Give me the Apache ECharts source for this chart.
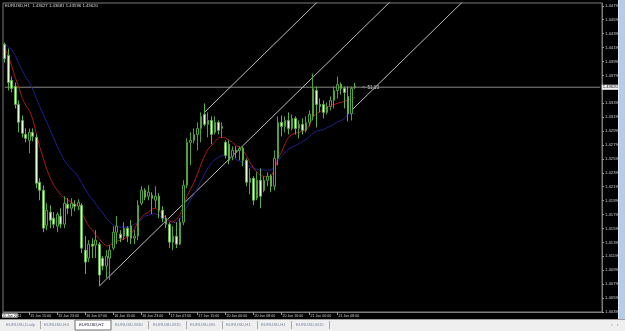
<!DOCTYPE html>
<html><head><meta charset="utf-8">
<script src="https://cdn.jsdelivr.net/npm/echarts@6/dist/echarts.min.js"></script>
<style>html,body{margin:0;padding:0;background:#000;overflow:hidden}#c{width:625px;height:331px}</style>
</head><body><div id="c"></div>
<script>
// ---------- data ----------
const chartTitle = 'EURUSD,H1  1.43627 1.43681 1.43596 1.43620';
const slotCount = 171; // bar slots incl. chart shift space
const opens = [1.44233,1.44075,1.43717,1.43631,1.43373,1.43143,1.42942,1.42856,1.42971,1.42899,
1.42254,1.42139,1.41638,1.41824,1.41738,1.41623,1.41767,1.41652,1.41939,1.41881,
1.41939,1.41910,1.41924,1.41279,1.41164,1.41365,1.41351,1.41365,1.41164,1.41050,
1.41164,1.41308,1.41537,1.41508,1.41480,1.41594,1.41623,1.41451,1.41480,1.41953,
1.42139,1.42053,1.42068,1.41996,1.42053,1.41853,1.41738,1.41652,1.41394,1.41480,
1.41365,1.41681,1.42211,1.42828,1.42856,1.42942,1.43028,1.43229,1.43086,1.43143,
1.42971,1.43115,1.43028,1.42828,1.42799,1.42627,1.42713,1.42713,1.42742,1.42570,
1.42254,1.42311,1.42025,1.42283,1.42139,1.42283,1.42340,1.42197,1.42598,1.43115,
1.43057,1.43143,1.43028,1.43172,1.43028,1.43086,1.43000,1.43115,1.43201,1.43573,
1.43373,1.43373,1.43258,1.43344,1.43430,1.43573,1.43659,1.43602,1.43487,1.43244,
1.43627];
const closes = [1.44032,1.43688,1.43602,1.43373,1.43115,1.42957,1.42885,1.42971,1.42914,1.42240,
1.42139,1.41594,1.41853,1.41709,1.41652,1.41795,1.41652,1.41953,1.41881,1.41953,
1.41910,1.41967,1.41308,1.41107,1.41365,1.41336,1.41422,1.40921,1.41050,1.41193,
1.41279,1.41537,1.41623,1.41451,1.41594,1.41480,1.41451,1.41480,1.41924,1.42139,
1.42039,1.42111,1.42025,1.42053,1.41853,1.41738,1.41652,1.41394,1.41480,1.41365,
1.41681,1.42211,1.42828,1.42856,1.42942,1.43028,1.43201,1.43086,1.43143,1.42942,
1.43115,1.43000,1.43057,1.42641,1.42570,1.42713,1.42684,1.42742,1.42570,1.42254,
1.42311,1.41996,1.42283,1.42053,1.42283,1.42340,1.42197,1.42598,1.43115,1.43057,
1.43143,1.43028,1.43172,1.43028,1.43086,1.43000,1.43115,1.43229,1.43602,1.43373,
1.43344,1.43258,1.43344,1.43430,1.43573,1.43659,1.43602,1.43545,1.43244,1.43602,
1.43620];
const lows = [1.43975,1.43573,1.43545,1.43315,1.42971,1.42899,1.42828,1.42670,1.42842,1.42168,
1.41996,1.41537,1.41566,1.41594,1.41594,1.41537,1.41594,1.41594,1.41795,1.41767,
1.41838,1.41853,1.41236,1.40935,1.41107,1.41164,1.41164,1.40763,1.40992,1.40877,
1.40849,1.41279,1.41365,1.41394,1.41422,1.41394,1.41365,1.41365,1.41422,1.41924,
1.41996,1.41996,1.41795,1.41881,1.41738,1.41681,1.41594,1.41308,1.41279,1.41308,
1.41351,1.41638,1.42168,1.42498,1.42813,1.42713,1.42828,1.43057,1.42899,1.42799,
1.42942,1.42942,1.42899,1.42598,1.42512,1.42570,1.42598,1.42570,1.42484,1.42197,
1.42082,1.41924,1.41996,1.41881,1.42111,1.42197,1.42111,1.42139,1.42498,1.42914,
1.42971,1.42942,1.43000,1.42942,1.42885,1.42942,1.42971,1.43057,1.43143,1.43043,
1.43258,1.43172,1.43229,1.43287,1.43315,1.43459,1.43516,1.43315,1.43129,1.43143,
1.43596];
const highs = [1.44262,1.44176,1.43774,1.43688,1.43430,1.43215,1.43028,1.43028,1.43028,1.42942,
1.42311,1.42211,1.41953,1.41924,1.41824,1.41824,1.41881,1.42053,1.42025,1.42025,
1.41996,1.42010,1.41953,1.41480,1.41422,1.41451,1.41566,1.41394,1.41193,1.41279,
1.41351,1.41623,1.41767,1.41566,1.41681,1.41623,1.41709,1.41566,1.41996,1.42197,
1.42168,1.42211,1.42111,1.42197,1.42097,1.41910,1.41781,1.41681,1.41623,1.41681,
1.41738,1.42283,1.42885,1.42971,1.43028,1.43115,1.43258,1.43387,1.43258,1.43201,
1.43201,1.43143,1.43115,1.42856,1.42856,1.42770,1.42770,1.42770,1.42770,1.42598,
1.42455,1.42340,1.42398,1.42455,1.42340,1.42398,1.42369,1.42713,1.43201,1.43215,
1.43201,1.43258,1.43229,1.43201,1.43143,1.43172,1.43201,1.43287,1.43817,1.43631,
1.43459,1.43430,1.43401,1.43487,1.43631,1.43774,1.43688,1.43631,1.43631,1.43631,
1.43681];
const maFast = [1.4418,1.4408,1.4392,1.4376,1.4362,1.4346,1.4336,1.4329,1.4316,1.4296,
1.4276,1.4260,1.4244,1.4231,1.4221,1.4214,1.4207,1.4203,1.4200,1.4197,
1.4194,1.4191,1.4182,1.4171,1.4162,1.4157,1.4149,1.4144,1.4138,1.4134,
1.4135,1.4139,1.4141,1.4142,1.4144,1.4147,1.4151,1.4158,1.4168,1.4175,
1.4180,1.4182,1.4187,1.4188,1.4184,1.4180,1.4174,1.4170,1.4168,1.4172,
1.4178,1.4192,1.4205,1.4215,1.4225,1.4237,1.4251,1.4263,1.4273,1.4278,
1.4284,1.4289,1.4290,1.4289,1.4286,1.4283,1.4278,1.4276,1.4271,1.4264,
1.4254,1.4246,1.4240,1.4235,1.4234,1.4233,1.4234,1.4243,1.4260,1.4268,
1.4281,1.4290,1.4294,1.4296,1.4297,1.4299,1.4301,1.4307,1.4320,1.4324,
1.4327,1.4330,1.4333,1.4336,1.4337,1.4339,1.4340,1.4342,1.4343,1.4346,
1.4347];
const maSlow = [1.4425,1.4420,1.4416,1.4408,1.4396,1.4386,1.4376,1.4369,1.4359,1.4346,
1.4334,1.4323,1.4312,1.4300,1.4289,1.4277,1.4266,1.4257,1.4250,1.4244,
1.4240,1.4233,1.4224,1.4215,1.4207,1.4201,1.4194,1.4187,1.4181,1.4174,
1.4168,1.4164,1.4162,1.4161,1.4161,1.4161,1.4162,1.4165,1.4168,1.4172,
1.4177,1.4178,1.4180,1.4180,1.4178,1.4175,1.4172,1.4170,1.4168,1.4167,
1.4172,1.4181,1.4190,1.4200,1.4207,1.4217,1.4227,1.4237,1.4246,1.4253,
1.4258,1.4261,1.4264,1.4264,1.4263,1.4261,1.4258,1.4256,1.4254,1.4251,
1.4248,1.4246,1.4244,1.4243,1.4243,1.4243,1.4243,1.4246,1.4256,1.4263,
1.4268,1.4273,1.4276,1.4278,1.4281,1.4284,1.4287,1.4291,1.4296,1.4299,
1.4300,1.4301,1.4304,1.4306,1.4309,1.4312,1.4314,1.4317,1.4323,1.4324,
1.4324];
const xTickIndex = [7,15,23,31,39,47,55,63,71,79,87,95];
const xTickLabels = ['15 Jun 15:00','15 Jun 23:00','16 Jun 07:00','16 Jun 15:00','16 Jun 23:00','17 Jun 07:00','17 Jun 15:00','20 Jun 00:00','20 Jun 08:00','20 Jun 16:00','21 Jun 00:00','21 Jun 08:00'];
const firstLabel = ['15 Jun 20','11'];
const yTicks = [1.4039,1.4059,1.4079,1.4099,1.4119,1.4139,1.4159,1.4179,1.4199,1.4219,1.4239,1.4259,1.4279,1.4299,1.4319,1.4339,1.4359,1.4379,1.4399,1.4419,1.4439,1.4459,1.4479];
const lastPrice = 1.43620;
const countdown = '<- 51:13';
const pitchfork = [[27,1.40763],[57,1.43258],[99,1.43287]];
const tabs = ['EURUSD,Daily','EURUSD,H4','EURUSD,H1','EURUSD,M30','EURUSD,M15','EURUSD,M5','EURUSD,H1','EURUSD,H1','EURUSD,M15'];
const activeTab = 2;

// ---------- layout ----------
const FONT = 'Liberation Sans';
const tabX = [6,44,79,115,153,190,226,261,296];
const sepX = [40,148,186,222,257,291,329];

const cats = Array.from({length: slotCount}, (_, i) => String(i));
const candles = opens.map((o, i) => [o, closes[i], lows[i], highs[i]]);
const labelMap = {};
xTickIndex.forEach((idx, k) => labelMap[idx] = xTickLabels[k]);

const [p1, p2, p3] = pitchfork;
const mid = [(p2[0] + p3[0]) / 2, (p2[1] + p3[1]) / 2];
const slope = (mid[1] - p1[1]) / (mid[0] - p1[0]);
const endIdx = slotCount - 1;
const ext = p => [endIdx, p[1] + slope * (endIdx - p[0])];
const pfStyle = {color: '#bdbdbd', width: 1};
const sq = v => ({value: v, symbol: 'rect', symbolSize: 3, itemStyle: {color: '#ffffff'}});

const graphic = [
  {type: 'rect', shape: {x: 0, y: 319, width: 625, height: 12}, style: {fill: '#efefef'}, silent: true},
  {type: 'rect', shape: {x: 0, y: 319, width: 625, height: 1}, style: {fill: '#a0a0a0'}, silent: true},
  {type: 'rect', shape: {x: 618, y: 0, width: 1, height: 319}, style: {fill: '#e4ecf6'}, silent: true},
  {type: 'rect', shape: {x: 619, y: 0, width: 6, height: 319}, style: {fill: '#b3cdea'}, silent: true},
  {type: 'rect', shape: {x: 75, y: 320, width: 36, height: 10}, style: {fill: '#ffffff', stroke: '#707070', lineWidth: 1}, silent: true},
  {type: 'text', x: 2, y: 313.5, style: {text: '{h|' + firstLabel[0] + '}{n|' + firstLabel[1] + '}', font: '3.6px ' + FONT,
    rich: {h: {backgroundColor: '#ffffff', fill: '#000000', fontSize: 3.6, fontFamily: FONT}, n: {fill: '#cfcfcf', fontSize: 3.6, fontFamily: FONT}}}, silent: true},
  {type: 'text', x: 362, y: 85.6, style: {text: countdown, fill: '#d8d8d8', font: '4.6px ' + FONT}, silent: true},
  {type: 'text', x: 611, y: 322.5, style: {text: '\u2039   \u203A', fill: '#909090', font: '5px ' + FONT}, silent: true}
];
tabs.forEach((t, i) => graphic.push({type: 'text', x: tabX[i], y: 322.6,
  style: {text: t, fill: i === activeTab ? '#202040' : '#7a86a0', font: (i === activeTab ? 'italic ' : '') + '4.3px ' + FONT}, silent: true}));
sepX.forEach(x => graphic.push({type: 'rect', shape: {x: x, y: 321, width: 0.8, height: 8}, style: {fill: '#9a9a9a'}, silent: true}));

const option = {
  animation: false,
  backgroundColor: '#000000',
  title: {text: chartTitle, left: 5, top: 4, padding: 0,
    textStyle: {color: '#dcdcdc', fontSize: 4.3, fontWeight: 'normal', fontFamily: FONT}},
  grid: {left: 3, right: 23, top: 3, bottom: 19, show: true, borderColor: '#7c7c7c', borderWidth: 1, backgroundColor: 'transparent'},
  xAxis: {
    type: 'category', data: cats, boundaryGap: true,
    axisLine: {show: true, lineStyle: {color: '#7c7c7c', width: 1}},
    axisTick: {show: true, alignWithLabel: true, length: 3, interval: i => labelMap[i] !== undefined, lineStyle: {color: '#9a9a9a'}},
    axisLabel: {show: true, interval: i => labelMap[i] !== undefined, formatter: (v, i) => labelMap[i] || '',
      align: 'left', margin: 2, color: '#cfcfcf', fontSize: 3.6, fontFamily: FONT, padding: [0, 0, 0, 1]},
    splitLine: {show: false}
  },
  yAxis: {
    type: 'value', position: 'right', min: 1.4039, max: 1.4483,
    axisLine: {show: true, lineStyle: {color: '#7c7c7c', width: 1}},
    axisTick: {show: true, length: 2, customValues: yTicks, lineStyle: {color: '#9a9a9a'}},
    axisLabel: {show: true, customValues: yTicks, formatter: v => v.toFixed(5), margin: 3, color: '#cfcfcf', fontSize: 4.2, fontFamily: FONT},
    splitLine: {show: false}
  },
  graphic: graphic,
  series: [
    {type: 'line', data: [[0, lastPrice], [endIdx, lastPrice]], symbol: 'none', silent: true, z: 1, clip: false,
      lineStyle: {color: '#8a8a8a', width: 1},
      endLabel: {show: true, distance: 1.5, formatter: lastPrice.toFixed(5), color: '#000000',
        backgroundColor: '#f2f2f2', padding: [0.5, 1], fontSize: 4.2, fontFamily: FONT}},
    {type: 'line', data: [sq(p1.slice()), sq(mid), {value: ext(p1), symbol: 'none'}], symbol: 'none', showSymbol: true,
      lineStyle: pfStyle, clip: true, silent: true, z: 1},
    {type: 'line', data: [p2.slice(), ext(p2)], symbol: 'none', lineStyle: pfStyle, clip: true, silent: true, z: 1},
    {type: 'line', data: [p3.slice(), ext(p3)], symbol: 'none', lineStyle: pfStyle, clip: true, silent: true, z: 1},
    {type: 'line', data: maSlow, symbol: 'none', lineStyle: {color: '#1e1e92', width: 1}, silent: true, z: 2},
    {type: 'line', data: maFast, symbol: 'none', lineStyle: {color: '#a81818', width: 1}, silent: true, z: 2},
    {type: 'candlestick', data: candles, barWidth: 2.2, silent: true, z: 3,
      itemStyle: {color: '#000000', color0: '#e4ffd6', borderColor: '#52a03c', borderColor0: '#5fae48', borderWidth: 1}}
  ]
};
const chart = echarts.init(document.getElementById('c'), null, {renderer: 'canvas'});
chart.setOption(option);
</script>
</body></html>
